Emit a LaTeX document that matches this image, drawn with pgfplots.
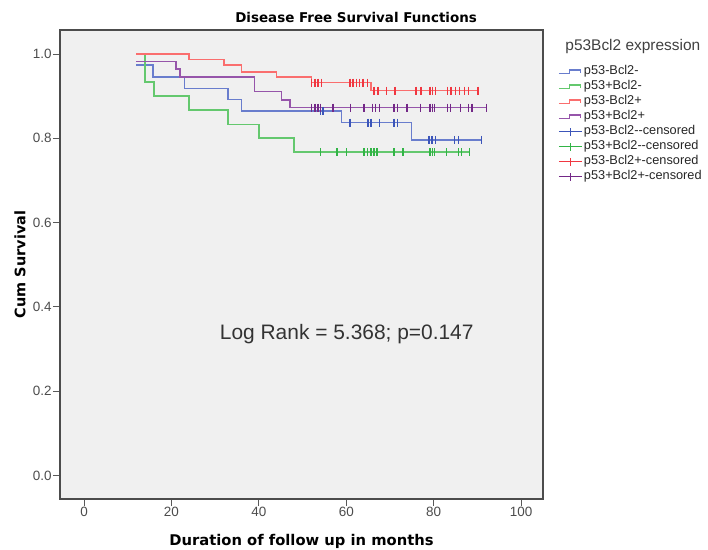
\documentclass[border=0pt]{standalone}
\usepackage{pgfplots}
\pgfplotsset{compat=1.18}
\usepackage{fontspec}
\setmainfont{Liberation Sans}[Ligatures=TeXOff]
\newfontfamily\djv{DejaVu Sans}[Ligatures=TeXOff]

\definecolor{kmblue}{RGB}{105,125,205}
\definecolor{kmgreen}{RGB}{100,200,110}
\definecolor{kmred}{RGB}{250,110,110}
\definecolor{kmpurple}{RGB}{150,85,170}
\definecolor{cblue}{RGB}{60,85,185}
\definecolor{cgreen}{RGB}{50,180,70}
\definecolor{cred}{RGB}{240,55,65}
\definecolor{cpurple}{RGB}{115,40,135}
\definecolor{plotbg}{RGB}{240,240,240}

\pgfplotsset{
  kmstep/.style={const plot, mark=none, line width=1.6bp,
    legend image code/.code={\draw[##1,line width=1.3bp] (0bp,-1.7bp) -- (11bp,-1.7bp) -- (11bp,1.7bp) -- (22bp,1.7bp) -- (22bp,-1.7bp);}},
  cens/.style={only marks, mark=|, mark size=4bp, mark options={line width=1.5bp},
    legend image code/.code={\draw[##1,line width=1.3bp] (0bp,0bp) -- (23bp,0bp) (11.5bp,-4bp) -- (11.5bp,4bp);}},
}

\begin{document}
\begin{tikzpicture}
\useasboundingbox (-60bp,-51bp) rectangle (648bp,499bp);
\begin{axis}[
  scale only axis, width=483bp, height=469bp,
  xmin=-5.5, xmax=105, ymin=-0.056, ymax=1.057,
  xtick={0,20,40,60,80,100}, ytick={0,0.2,0.4,0.6,0.8,1},
  yticklabel style={/pgf/number format/.cd, fixed, fixed zerofill, precision=1},
  /pgf/number format/assume math mode=true,
  ticklabel style={font=\fontsize{13.5}{14}\selectfont, text=black!70, inner sep=1.2bp},
  tick align=outside, xtick pos=bottom, ytick pos=left,
  major tick length=7bp,
  tick style={black!65, line width=1bp},
  axis line style={black!70, line width=1.3bp},
  axis background/.style={fill=plotbg},
  xlabel={Duration of follow up in months},
  ylabel={Cum Survival},
  xlabel style={font=\djv\bfseries\fontsize{14.8}{15}\selectfont, at={(axis description cs:0.5,-0.0896)}, anchor=center},
  ylabel style={font=\djv\bfseries\fontsize{14.5}{15}\selectfont, at={(axis description cs:-0.083,0.5)}, anchor=center, rotate=0},
  legend style={at={(1.031,0.925)}, anchor=north west, draw=none, fill=none,
    font=\fontsize{12.8}{14}\selectfont, text=black!85,
    nodes={inner sep=0pt, text height=9.5bp, text depth=3bp},
    row sep=2.5bp, column sep=1.5bp, inner sep=0pt},
  legend cell align=left,
  clip=false,
]
% Kaplan-Meier step curves
\addplot[kmstep, color=kmblue] coordinates
  {(12,0.974)(15.8,0.946)(23,0.918)(33,0.892)(36,0.865)(58.9,0.837)(74.9,0.796)(90.9,0.796)};
\addplot[kmstep, color=kmgreen] coordinates
  {(12,1.0)(13.9,0.933)(16,0.900)(24,0.867)(33,0.833)(40,0.800)(48,0.767)(88.4,0.767)};
\addplot[kmstep, color=kmred] coordinates
  {(12,1.0)(24,0.987)(32,0.974)(36,0.958)(44,0.946)(52,0.932)(65.7,0.913)(90.1,0.913)};
\addplot[kmstep, color=kmpurple] coordinates
  {(12,0.982)(21,0.964)(22,0.946)(39,0.911)(45.2,0.891)(47.1,0.873)(92.1,0.873)};
% censored cases
\addplot[cens, color=cblue] coordinates
  {(54.1,0.865)(54.7,0.865)
   (60.9,0.837)(65.0,0.837)(65.6,0.837)(67.6,0.837)(70.9,0.837)(71.7,0.837)
   (78.9,0.796)(79.6,0.796)(80.4,0.796)(84.8,0.796)(85.7,0.796)(90.9,0.796)};
\addplot[cens, color=cgreen] coordinates
  {(54.1,0.767)(57.9,0.767)(60.0,0.767)(64.0,0.767)(64.8,0.767)(65.6,0.767)(66.3,0.767)
   (67.0,0.767)(70.9,0.767)(73.0,0.767)(79.1,0.767)(79.7,0.767)(80.2,0.767)(82.9,0.767)
   (85.7,0.767)(86.3,0.767)(88.2,0.767)};
\addplot[cens, color=cred] coordinates
  {(52.0,0.932)(52.8,0.932)(53.5,0.932)(54.3,0.932)(60.8,0.932)(61.5,0.932)(62.3,0.932)
   (63.0,0.932)(63.8,0.932)(64.9,0.932)
   (66.3,0.913)(67.2,0.913)(69.2,0.913)(71.1,0.913)(76.0,0.913)(77.1,0.913)(79.1,0.913)
   (79.7,0.913)(80.4,0.913)(83.1,0.913)(84.0,0.913)(85.0,0.913)(85.9,0.913)(87.0,0.913)
   (88.0,0.913)(90.1,0.913)};
\addplot[cens, color=cpurple] coordinates
  {(52.0,0.873)(52.8,0.873)(53.5,0.873)(54.1,0.873)(57.0,0.873)(61.0,0.873)(64.0,0.873)
   (66.0,0.873)(66.7,0.873)(67.6,0.873)(70.9,0.873)(71.7,0.873)(73.9,0.873)(77.0,0.873)
   (79.1,0.873)(79.7,0.873)(80.2,0.873)(83.1,0.873)(83.8,0.873)(86.1,0.873)(88.0,0.873)
   (88.8,0.873)(92.1,0.873)};
\legend{p53-Bcl2-, p53+Bcl2-, p53-Bcl2+, p53+Bcl2+,
  p53-Bcl2--censored, p53+Bcl2--censored, p53-Bcl2+-censored, p53+Bcl2+-censored}

\node[font=\fontsize{21}{21}\selectfont, text=black!80] at (axis cs:60.1,0.335) {Log Rank = 5.368; p=0.147};
\node[font=\djv\bfseries\fontsize{13.5}{14}\selectfont] at (axis description cs:0.613,1.0256) {Disease Free Survival Functions};
\node[font=\fontsize{15.5}{16}\selectfont, text=black!75] at (axis description cs:1.186,0.964) {p53Bcl2 expression};
\end{axis}
\end{tikzpicture}
\end{document}
